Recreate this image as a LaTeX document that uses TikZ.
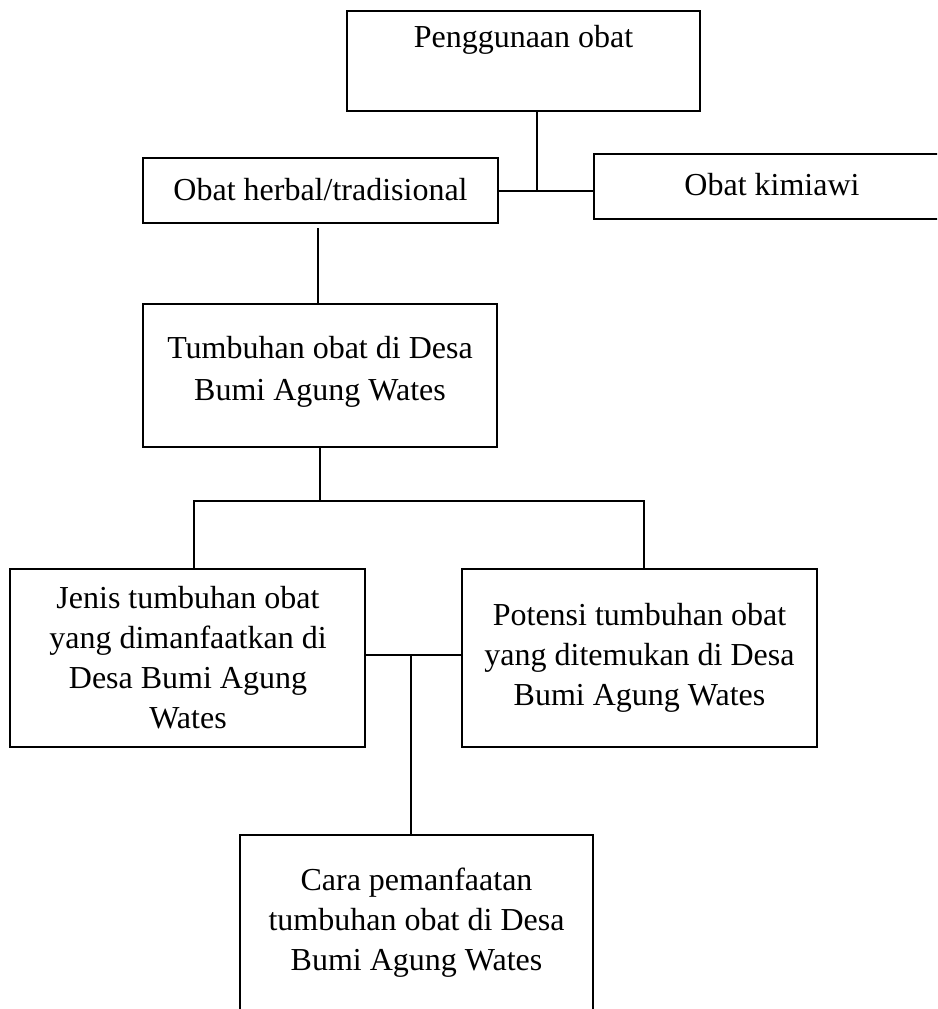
\documentclass[tikz,border=0pt]{standalone}
\usepackage{fontspec}
\setmainfont{Liberation Serif}
\newcommand{\fl}{\rule{0pt}{25pt}}
\begin{document}
\begin{tikzpicture}[x=1pt,y=-1pt,
  box/.style={draw, line width=1.6pt, inner sep=0pt, outer sep=0pt},
  conn/.style={line width=1.4pt},
  lbl/.style={anchor=north, inner sep=0pt, align=center, font=\fontsize{32}{40}\selectfont}]
\useasboundingbox (0,0) rectangle (937,1009);
\clip (0,0) rectangle (937,1009);
% boxes
\node[box, minimum width=353pt, minimum height=100pt] (b1) at (523.5,61) {};
\node[box, minimum width=355pt, minimum height=65pt] (herbal) at (320.5,190.5) {};
\node[box, minimum width=354pt, minimum height=65pt] (kimia) at (771,186.5) {};
\node[box, minimum width=354pt, minimum height=143pt] (tumb) at (320,375.5) {};
\node[box, minimum width=355pt, minimum height=178pt] (jenis) at (187.5,658) {};
\node[box, minimum width=355pt, minimum height=178pt] (potensi) at (639.5,658) {};
\node[box, minimum width=353pt, minimum height=195pt] (cara) at (416.5,932.5) {};
% texts
\node[lbl] (t1) at (523.5,22) {\fl Penggunaan obat};
\node[lbl] (t2) at (320.5,175) {\fl Obat herbal/tradisional};
\node[lbl] (t3) at (772,170) {\fl Obat kimiawi};
\node[lbl, font=\fontsize{32}{42}\selectfont] (t4) at (320,333) {\fl Tumbuhan obat di Desa\\Bumi Agung Wates};
\node[lbl] (t5) at (188,583) {\fl Jenis tumbuhan obat\\yang dimanfaatkan di\\Desa Bumi Agung\\Wates};
\node[lbl] (t6) at (639.5,600) {\fl Potensi tumbuhan obat\\yang ditemukan di Desa\\Bumi Agung Wates};
\node[lbl] (t7) at (416.5,865) {\fl Cara pemanfaatan\\tumbuhan obat di Desa\\Bumi Agung Wates};
% connector points
\coordinate (j1) at (537,191);
\coordinate (h1) at (318,228);
\coordinate (j2) at (320,501);
\coordinate (jl) at (194,501);
\coordinate (jr) at (644,501);
\coordinate (j3) at (411,655);
% connectors
\draw[conn] (b1.south -| j1) -- (j1);
\draw[conn] (herbal.east |- j1) -- (kimia.west |- j1);
\draw[conn] (h1) -- (h1 |- tumb.north);
\draw[conn] (tumb.south) -- (j2);
\draw[conn] (jenis.north -| jl) -- (jl) -- (jr) -- (jr |- potensi.north);
\draw[conn] (jenis.east |- j3) -- (potensi.west |- j3);
\draw[conn] (j3) -- (j3 |- cara.north);
\end{tikzpicture}
\end{document}
